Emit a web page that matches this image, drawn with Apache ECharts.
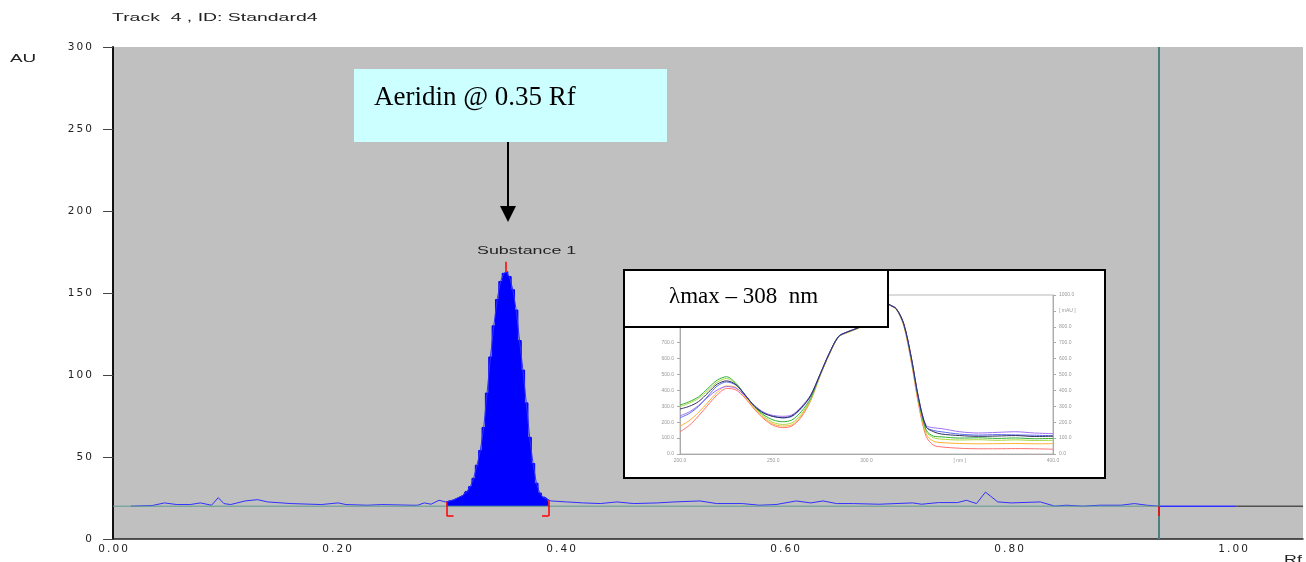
<!DOCTYPE html>
<html>
<head>
<meta charset="utf-8">
<title>Track 4 - Standard4</title>
<script src="https://cdn.jsdelivr.net/npm/echarts@6/dist/echarts.min.js"></script>
<style>
  html, body { margin: 0; padding: 0; background: #fff; }
  #main { width: 1306px; height: 562px; }
</style>
</head>
<body>
<div id="main"></div>
<script>
// densitogram: baseline noise before the peak
const leftRf = [0.016, 0.025, 0.035, 0.046, 0.057, 0.069, 0.078, 0.088, 0.094, 0.099, 0.105, 0.118, 0.129, 0.138, 0.159, 0.186, 0.201, 0.208, 0.227, 0.240, 0.267, 0.272, 0.278, 0.284, 0.291, 0.297]
const leftAu = [20, 20.2, 20.4, 22, 21, 21, 22, 20.6, 25.2, 21.6, 21, 23.2, 24, 22.6, 21.6, 21, 22, 21, 20.6, 21, 20.6, 20.6, 22, 21.2, 23.6, 22.6]

// Substance 1 peak
const peakRf = [0.298, 0.301, 0.304, 0.307, 0.310, 0.313, 0.316, 0.319, 0.322, 0.325, 0.328, 0.331, 0.334, 0.337, 0.340, 0.343, 0.346, 0.349, 0.351, 0.354, 0.357, 0.360, 0.363, 0.366, 0.369, 0.372, 0.375, 0.378, 0.381, 0.384, 0.387, 0.389]
const peakAu = [22.7, 23.3, 23.8, 24.8, 25.8, 26.8, 29, 31.9, 37, 45, 54, 68, 89, 111, 130, 146, 157, 162, 163, 160, 152, 139.6, 121, 103, 83, 62, 46, 34, 28, 25.5, 24.3, 23.8]

// baseline noise after the peak
const rightRf = [0.391, 0.405, 0.420, 0.435, 0.450, 0.465, 0.486, 0.501, 0.524, 0.539, 0.562, 0.577, 0.592, 0.610, 0.623, 0.634, 0.646, 0.661, 0.684, 0.714, 0.722, 0.737, 0.754, 0.762, 0.771, 0.779, 0.790, 0.802, 0.828, 0.841, 0.851, 0.866, 0.881, 0.900, 0.912, 0.923, 0.934]
const rightAu = [23.2, 22.6, 22, 21.6, 22.6, 21.6, 22, 22.6, 23.2, 21.6, 21.6, 20.6, 21, 23.2, 22, 23.2, 21.6, 21.6, 21.2, 22, 21.2, 22.2, 22.2, 23.6, 21.6, 28.6, 22.6, 22, 22.6, 20, 20.6, 20, 20.6, 20.6, 21.6, 20.6, 20]

const baseAu = 20
const solventFront = 0.934
const scanEnd = 1.003
const rfMax = 1.0625

// UV spectra of the peak (inset), wavelength in nm, mAU
const wavelength = [200, 205, 210, 215, 220, 225, 230, 235, 240, 245, 250, 255, 260, 265, 270, 275, 280, 285, 290, 295, 300, 305, 308, 312, 316, 320, 324, 328, 332, 336, 340, 350, 360, 370, 380, 390, 400]
const specGreen = [308, 329, 360, 413, 465, 486, 444, 371, 298, 245, 214, 203, 214, 266, 350, 495, 630, 738, 768, 790, 822, 905, 985, 941, 912, 815, 600, 335, 150, 112, 108, 100, 102, 98, 101, 96, 98]
const specLime = [298, 320, 350, 400, 452, 475, 440, 368, 292, 236, 198, 186, 196, 250, 342, 490, 627, 737, 767, 789, 821, 904, 984, 940, 911, 812, 596, 330, 140, 102, 94, 88, 90, 86, 89, 85, 86]
const specNavy = [283, 300, 330, 385, 440, 460, 436, 370, 300, 256, 236, 228, 240, 290, 366, 498, 632, 739, 769, 791, 823, 906, 986, 942, 913, 818, 608, 345, 170, 140, 126, 116, 111, 113, 116, 110, 112]
const specBlue = [228, 255, 300, 365, 428, 453, 433, 368, 300, 258, 236, 227, 236, 286, 364, 497, 631, 739, 769, 791, 823, 905, 985, 941, 913, 817, 606, 345, 170, 148, 140, 125, 119, 122, 120, 118, 115]
const specPurple = [240, 265, 305, 358, 403, 424, 414, 364, 305, 262, 242, 237, 246, 296, 370, 499, 633, 740, 770, 792, 824, 906, 986, 942, 914, 818, 610, 350, 180, 165, 160, 140, 132, 136, 140, 132, 128]
const specRed = [140, 180, 240, 308, 372, 412, 403, 350, 280, 220, 180, 166, 176, 232, 334, 488, 625, 735, 765, 788, 820, 903, 983, 939, 910, 805, 580, 305, 110, 55, 45, 36, 33, 33, 34, 33, 30]
const specOrange = [175, 210, 262, 325, 388, 428, 418, 358, 285, 226, 188, 176, 184, 240, 338, 490, 626, 736, 766, 789, 821, 904, 984, 940, 910, 808, 588, 318, 125, 80, 72, 66, 64, 65, 66, 64, 65]

const pairs = (xs, ys) => xs.map((x, i) => [x, ys[i]])
const spaced = (s) => s.split('').join('\u2009')

const peakData = pairs(peakRf, peakAu)
const traceData = pairs(leftRf, leftAu).concat(peakData, pairs(rightRf, rightAu))

const topIdx = peakAu.indexOf(Math.max(...peakAu))
const topRf = peakRf[topIdx]
const topAu = peakAu[topIdx]
const startRf = peakRf[0]
const endRf = peakRf[peakRf.length - 1]
const markLow = baseAu - 6
const red = { color: '#ff0000', width: 1.5, type: 'solid' }

const spectra = [
  { data: specRed, color: '#ff7070' },
  { data: specOrange, color: '#ffb030' },
  { data: specLime, color: '#a8d840' },
  { data: specGreen, color: '#30b030' },
  { data: specPurple, color: '#a070f0' },
  { data: specBlue, color: '#5a6cf0' },
  { data: specNavy, color: '#303060' },
]

const chart = echarts.init(document.getElementById('main'))

const option = {
  backgroundColor: '#ffffff',
  animation: false,
  grid: [
    { left: 113, top: 47, right: 3, bottom: 23, show: true, backgroundColor: '#c0c0c0', borderWidth: 0, z: 0 },
    { left: 680, top: 295, width: 373, height: 159, show: true, backgroundColor: 'rgba(0,0,0,0)', borderColor: '#b8b8b8', borderWidth: 1, z: 5 },
  ],
  xAxis: [
    {
      type: 'value',
      gridIndex: 0,
      min: 0,
      max: rfMax,
      interval: 0.2,
      splitLine: { show: false },
      axisLine: { lineStyle: { color: '#222', width: 1.5 } },
      axisTick: { show: false },
      axisLabel: {
        formatter: (v) => spaced(v.toFixed(2)),
        margin: 5,
        fontSize: 10.5,
        fontFamily: 'DejaVu Sans',
        color: '#222',
        showMaxLabel: false,
      },
    },
    {
      type: 'value',
      gridIndex: 1,
      min: 200,
      max: 400,
      interval: 50,
      z: 5,
      splitLine: { show: false },
      axisLine: { lineStyle: { color: '#aaa' } },
      axisTick: { show: false },
      axisLabel: {
        formatter: (v) => (v === 350 ? '[ nm ]' : v.toFixed(1)),
        margin: 4,
        fontSize: 5,
        color: '#999',
      },
    },
  ],
  yAxis: [
    {
      type: 'value',
      gridIndex: 0,
      min: 0,
      max: 300,
      interval: 50,
      splitLine: { show: false },
      axisLine: { show: true, lineStyle: { color: '#111', width: 2 } },
      axisTick: { show: true, length: 10, lineStyle: { color: '#444' } },
      axisLabel: {
        formatter: (v) => spaced(String(v)),
        margin: 21,
        fontSize: 10.5,
        fontFamily: 'DejaVu Sans',
        color: '#222',
      },
    },
    {
      type: 'value',
      gridIndex: 1,
      position: 'left',
      min: 0,
      max: 1000,
      interval: 100,
      z: 5,
      splitLine: { show: false },
      axisLine: { show: true, lineStyle: { color: '#aaa' } },
      axisTick: { show: true, length: 3, lineStyle: { color: '#aaa' } },
      axisLabel: { formatter: (v) => v.toFixed(1), margin: 6, fontSize: 5, color: '#999' },
    },
    {
      type: 'value',
      gridIndex: 1,
      position: 'right',
      min: 0,
      max: 1000,
      interval: 100,
      z: 5,
      splitLine: { show: false },
      axisLine: { show: true, lineStyle: { color: '#aaa' } },
      axisTick: { show: true, length: 3, lineStyle: { color: '#aaa' } },
      axisLabel: {
        formatter: (v) => (v === 900 ? '[ mAU ]' : v.toFixed(1)),
        margin: 6,
        fontSize: 5,
        color: '#999',
      },
    },
  ],
  series: [
    // filled peak
    {
      type: 'line',
      data: peakData,
      step: 'middle',
      symbol: 'none',
      z: 3,
      lineStyle: { color: '#0000ff', width: 1 },
      areaStyle: { color: '#0000ff', opacity: 1, origin: baseAu },
    },
    // whole trace
    {
      type: 'line',
      data: traceData,
      symbol: 'none',
      z: 3,
      lineStyle: { color: '#3030ff', width: 1 },
    },
    // baseline + markers
    {
      type: 'line',
      data: [[0, baseAu], [solventFront, baseAu]],
      symbol: 'none',
      z: 4,
      lineStyle: { color: '#5f9a8e', width: 1 },
      markLine: {
        silent: true,
        symbol: 'none',
        label: { show: false },
        data: [
          [{ xAxis: solventFront, yAxis: 0, lineStyle: { color: '#4a8080', width: 2, type: 'solid' } }, { xAxis: solventFront, yAxis: 300 }],
          [{ coord: [topRf, topAu], lineStyle: red }, { coord: [topRf, topAu + 6] }],
          [{ coord: [startRf, peakAu[0]], lineStyle: red }, { coord: [startRf, markLow] }],
          [{ coord: [startRf, markLow], lineStyle: red }, { coord: [startRf + 0.006, markLow] }],
          [{ coord: [endRf, peakAu[peakAu.length - 1]], lineStyle: red }, { coord: [endRf, markLow] }],
          [{ coord: [endRf - 0.006, markLow], lineStyle: red }, { coord: [endRf, markLow] }],
          [{ coord: [solventFront, baseAu], lineStyle: red }, { coord: [solventFront, markLow] }],
        ],
      },
    },
    {
      type: 'line',
      data: [[solventFront, baseAu], [scanEnd, baseAu]],
      symbol: 'none',
      z: 4,
      lineStyle: { color: '#3030ff', width: 1.5 },
    },
    {
      type: 'line',
      data: [[scanEnd, baseAu], [rfMax, baseAu]],
      symbol: 'none',
      z: 4,
      lineStyle: { color: '#505050', width: 1.5 },
    },
  ].concat(
    spectra.map((s) => ({
      type: 'line',
      xAxisIndex: 1,
      yAxisIndex: 1,
      data: pairs(wavelength, s.data),
      symbol: 'none',
      smooth: 0.3,
      z: 6,
      lineStyle: { color: s.color, width: 1 },
    }))
  ),
  graphic: [
    { type: 'text', x: 112, y: 13, scaleX: 1.85, z: 10, style: { text: 'Track  4 , ID: Standard4', fontSize: 10.5, fontFamily: 'Liberation Sans', fill: '#222' } },
    { type: 'text', x: 10, y: 54, scaleX: 1.8, z: 10, style: { text: 'AU', fontSize: 10.5, fontFamily: 'Liberation Sans', fill: '#222' } },
    { type: 'text', x: 1284, y: 555, scaleX: 1.7, z: 10, style: { text: 'Rf', fontSize: 10.5, fontFamily: 'Liberation Sans', fill: '#222' } },
    { type: 'text', x: 477, y: 246, scaleX: 1.7, z: 10, style: { text: 'Substance 1', fontSize: 10.5, fontFamily: 'Liberation Sans', fill: '#222' } },
    // annotation box + arrow
    { type: 'rect', z: 10, shape: { x: 354, y: 69, width: 313, height: 73 }, style: { fill: '#ccffff' } },
    { type: 'text', x: 374, y: 84, z: 11, style: { text: 'Aeridin @ 0.35 Rf', fontSize: 27, fontFamily: 'Liberation Serif', fill: '#000' } },
    { type: 'line', z: 10, shape: { x1: 508, y1: 142, x2: 508, y2: 208 }, style: { stroke: '#000', lineWidth: 2 } },
    { type: 'polygon', z: 10, shape: { points: [[500, 206], [516, 206], [508, 222]] }, style: { fill: '#000' } },
    // inset spectrum frame
    { type: 'rect', z: 1, shape: { x: 624, y: 270, width: 481, height: 208 }, style: { fill: '#fff', stroke: '#000', lineWidth: 2 } },
    { type: 'rect', z: 10, shape: { x: 624, y: 270, width: 264, height: 57 }, style: { fill: '#fff', stroke: '#000', lineWidth: 2 } },
    { type: 'text', x: 669, y: 285, z: 11, style: { text: 'λmax – 308  nm', fontSize: 23, fontFamily: 'Liberation Serif', fill: '#000' } },
  ],
}

chart.setOption(option)
</script>
</body>
</html>
